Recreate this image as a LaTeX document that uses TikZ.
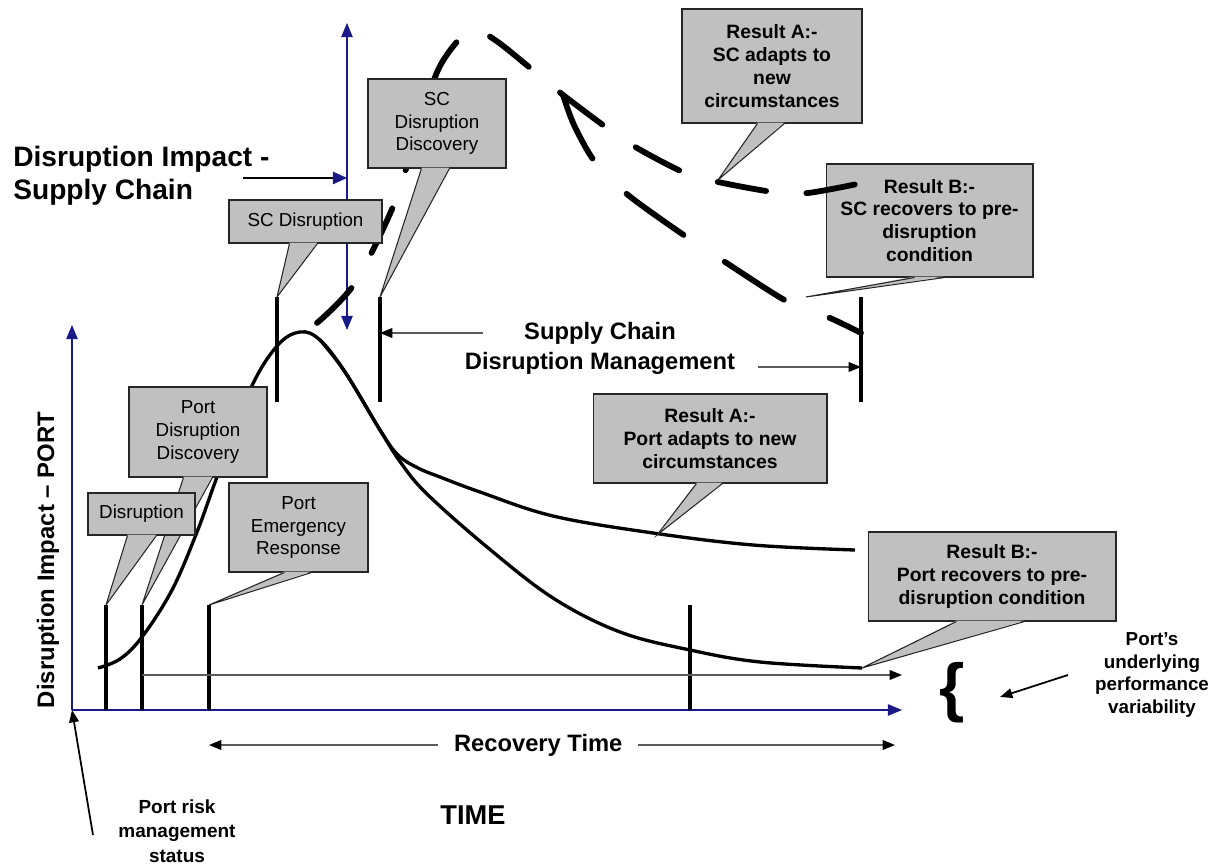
\documentclass[tikz,border=0pt]{standalone}
\usepackage{fontspec}
\setmainfont{Liberation Sans}
\usetikzlibrary{arrows.meta,calc}
\definecolor{axisblue}{RGB}{25,25,135}
\definecolor{boxgray}{RGB}{192,192,192}
\definecolor{arrowgray}{RGB}{90,90,90}
% callout pointer: node, base from/to (px from left edge), tip
\newcommand{\callptr}[4]{%
  \fill[boxgray] ($(#1.south west)+(#2,-1)$) -- (#4) -- ($(#1.south west)+(#3,-1)$) -- cycle;
  \draw[draw=black!85,line width=0.6pt] ($(#1.south west)+(#2,0)$) -- (#4) -- ($(#1.south west)+(#3,0)$);
}

\begin{document}
\begin{tikzpicture}[x=0.02cm,y=-0.02cm,
    box/.style={draw=black!85,line width=0.6pt,fill=boxgray,align=center,inner sep=0pt,font=\fontsize{10.7}{13}\selectfont},
    resbox/.style={box,font=\fontsize{11}{13}\selectfont\bfseries},
    headtext/.style={align=center,inner sep=0pt,font=\bfseries},
    blueaxis/.style={draw=axisblue,line width=0.6pt,-{Triangle[length=8pt,width=6.5pt]}},
    stopline/.style={line width=2.3pt},
    portcurve/.style={line width=1.9pt},
    sccurve/.style={line width=3.3pt,line cap=round,dash pattern=on 28pt off 23pt},
    thinarrow/.style={draw=arrowgray,line width=0.9pt,-{Triangle[length=7pt,width=5.5pt,color=black]}},
    blackarrow/.style={line width=1pt,-{Triangle[length=7pt,width=5.5pt]}}
  ]
  \useasboundingbox (0,0) rectangle (1217,864);

  % axes
  \coordinate (O) at (72,710);
  \coordinate (ytop) at (72,325);
  \coordinate (xend) at (902,710);
  \coordinate (sctop) at (347,23);
  \coordinate (scbot) at (347,330);
  \draw[blueaxis] (O) -- (ytop);
  \draw[blueaxis] (O) -- (xend);
  \draw[blueaxis,{Triangle[length=8pt,width=6.5pt]}-{Triangle[length=8pt,width=6.5pt]}] (sctop) -- (scbot);

  % event markers
  \foreach \n/\x in {t1/106,t2/142,t3/209,t4/690}{
    \coordinate (\n) at (\x,605);
    \draw[stopline] (\n) -- (\n |- O);
  }
  \foreach \n/\x in {t5/277,t6/380,t7/861}{
    \coordinate (\n) at (\x,297);
    \draw[stopline] (\n) -- ++(0,105);
  }

  % variability and recovery time
  \coordinate (varend) at (902,675);
  \draw[thinarrow] (t2 |- varend) -- (varend);
  \coordinate (recL) at (209,745);
  \coordinate (recR) at (895,745);
  \draw[thinarrow,{Triangle[length=7pt,width=5.5pt,color=black]}-{Triangle[length=7pt,width=5.5pt,color=black]}] (recL) -- node[pos=0.48,fill=white,inner xsep=9pt,font=\fontsize{13.5}{16}\selectfont\bfseries] (rectime) {Recovery Time} (recR);

  % port impact curve
  \draw[portcurve] plot[smooth,tension=0.6] coordinates {(98,668) (120,659) (142,637) (172,590) (197,532) (217,477) (250,390) (277,346) (300,332) (320,340) (345,372) (380,430) (398,455) (418,468) (440,477) (480,492) (553,516) (653,533) (753,545) (855,550)};
  \draw[portcurve] plot[smooth,tension=0.6] coordinates {(320,340) (345,372) (380,430) (401,463) (427,494) (487,547) (553,598) (620,632) (690,650) (760,662) (862,668)};

  \node[resbox,minimum width=4.14cm,minimum height=2.26cm] (scrb) at (929.5,220.5) {Result B:-\\SC recovers to pre-\\disruption\\condition};
  \coordinate (scB) at (806,297);
  \callptr{scrb}{89}{119}{scB}

  % supply chain impact curve
  \draw[sccurve] plot[smooth] coordinates {(317,323) (355,283) (395,202) (418,128) (440,66) (470,30) (495,40) (535,72) (563,95)};
  \draw[sccurve] plot[smooth] coordinates {(563,95) (607,128) (637,148) (685,173) (718,182) (773,192) (808,193) (862,183)};
  \draw[sccurve,dash pattern=on 40pt off 28pt] plot[smooth] coordinates {(563,95) (574,125) (595,162) (628,195) (688,238) (725,262) (788,302) (830,318) (861,333)};

  % callouts
  \node[box,minimum width=2.76cm,minimum height=1.78cm] (scdd) at (437,123.5) {SC\\Disruption\\Discovery};
  \callptr{scdd}{54}{82}{t6}
  \node[box,minimum width=3.06cm,minimum height=0.86cm] (scd) at (305.5,221.5) {SC Disruption};
  \callptr{scd}{61}{89}{t5}
  \node[resbox,minimum width=3.6cm,minimum height=2.28cm] (scra) at (772,66) {Result A:-\\SC adapts to\\new\\circumstances};
  \coordinate (scA) at (718,180);
  \callptr{scra}{76}{103}{scA}
  \node[box,minimum width=2.76cm,minimum height=1.8cm] (pdd) at (198,432) {Port\\Disruption\\Discovery};
  \callptr{pdd}{55}{84}{t2}
  \node[box,minimum width=2.14cm,minimum height=0.84cm] (dis) at (141.5,514) {Disruption};
  \callptr{dis}{40}{69}{t1}
  \node[box,minimum width=2.78cm,minimum height=1.78cm] (per) at (298.5,527.5) {Port\\Emergency\\Response};
  \callptr{per}{56}{83}{t3}
  \node[resbox,minimum width=4.68cm,minimum height=1.78cm] (pra) at (710,438.5) {Result A:-\\Port adapts to new\\circumstances};
  \coordinate (portA) at (657,535);
  \callptr{pra}{104}{130}{portA}
  \node[resbox,minimum width=4.96cm,minimum height=1.78cm] (prb) at (992,576.5) {Result B:-\\Port recovers to pre-\\disruption condition};
  \coordinate (portB) at (862,668);
  \callptr{prb}{89}{157}{portB}

  % labels
  \node[headtext,anchor=west,align=left,font=\fontsize{16}{19}\selectfont\bfseries] (scimpact) at (13,176) {Disruption Impact -\\Supply Chain};
  \coordinate (scimpA) at (243,178);
  \draw[line width=0.9pt,-{Triangle[length=8pt,width=7pt,color=axisblue]}] (scimpA) -- (scimpA -| sctop);
  \node[headtext,rotate=90,font=\fontsize{13.6}{16}\selectfont\bfseries] (portimpact) at (48,560) {Disruption Impact -- PORT};
  \node[headtext,font=\fontsize{13.5}{17}\selectfont\bfseries] (scm) at (600,348) {Supply Chain\\Disruption Management};
  \coordinate (scmL) at (483,333);
  \coordinate (scmR) at (758,367);
  \draw[thinarrow] (scmL) -- (t6 |- scmL);
  \draw[thinarrow] (scmR) -- (t7 |- scmR);
  \node[headtext,font=\fontsize{15.5}{18}\selectfont\bfseries] (timelab) at (473,815) {TIME};
  \node[headtext,font=\fontsize{10.8}{14}\selectfont\bfseries] (risk) at (177,831) {Port risk\\management\\status};
  \coordinate (riskfrom) at (93,835);
  \draw[blackarrow] (riskfrom) -- (O);
  \node[headtext,font=\fontsize{37}{37}\selectfont\bfseries] (brace) at (952,693) {\{};
  \node[headtext,font=\fontsize{10.7}{13}\selectfont\bfseries] (varlab) at (1152,675) {Port's\\underlying\\performance\\variability};
  \coordinate (varfrom) at (1068,675);
  \coordinate (vartip) at (1000,697);
  \draw[blackarrow] (varfrom) -- (vartip);
\end{tikzpicture}
\end{document}
